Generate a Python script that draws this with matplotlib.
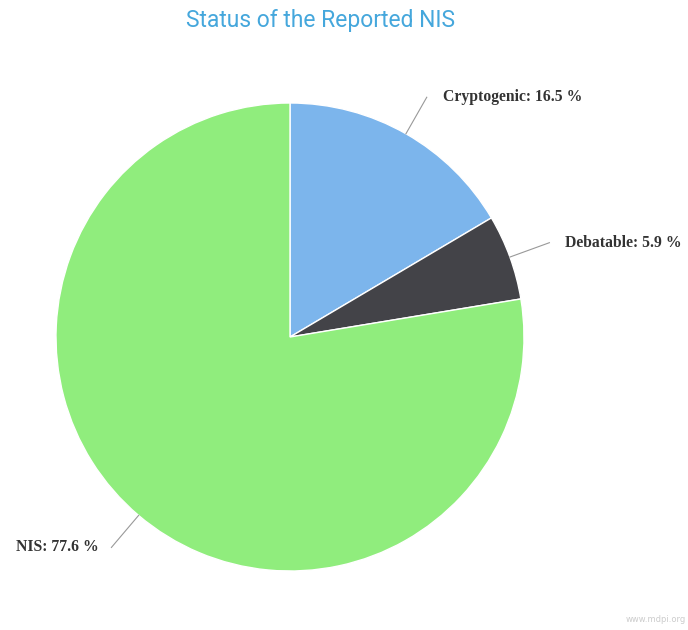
import numpy as np
import matplotlib
matplotlib.use("Agg")
import matplotlib.pyplot as plt

# -------------------------------
# Data
# -------------------------------
labels = ["Cryptogenic", "Debatable", "NIS"]
shares = [16.5, 5.9, 77.6]
colors = ["#7cb5ec", "#434348", "#90ed7d"]

title = "Status of the Reported NIS"

# -------------------------------
# Figure (axes in pixel units)
# -------------------------------
W, H = 688, 630
fig = plt.figure(figsize=(W / 100, H / 100), dpi=100)
ax = fig.add_axes([0, 0, 1, 1])

cx, cy, r = 290, H - 337, 234

wedges, _ = ax.pie(
    shares,
    colors=colors,
    startangle=90,
    counterclock=False,
    center=(cx, cy),
    radius=r,
    frame=True,
    wedgeprops=dict(edgecolor="white", linewidth=1),
)
ax.set_xlim(0, W)
ax.set_ylim(0, H)
ax.set_aspect("equal")
ax.axis("off")

# labels with straight connectors
for w, lab, val in zip(wedges, labels, shares):
    mid = np.deg2rad((w.theta1 + w.theta2) / 2)
    x0, y0 = cx + r * np.cos(mid), cy + r * np.sin(mid)
    x1, y1 = cx + (r + 42) * np.cos(mid), cy + (r + 42) * np.sin(mid)
    ax.plot([x0, x1], [y0, y1], color="#999999", lw=0.8)
    right = np.cos(mid) >= 0
    ax.text(x1 + (16 if right else -13), y1, f"{lab}: {val} %",
            ha="left" if right else "right", va="center",
            fontsize=11.3, fontweight="bold", family="Liberation Serif",
            color="#333333")

fig.text(321 / W, 1 - 20 / H, title, ha="center", va="center",
         fontsize=16.5, family="Roboto", color="#45a7dc")

fig.text(686 / W, 1 - 620 / H, "www.mdpi.org", ha="right", va="center",
         fontsize=6, color="#cccccc")

fig.savefig("out.png", dpi=100, facecolor="white")
